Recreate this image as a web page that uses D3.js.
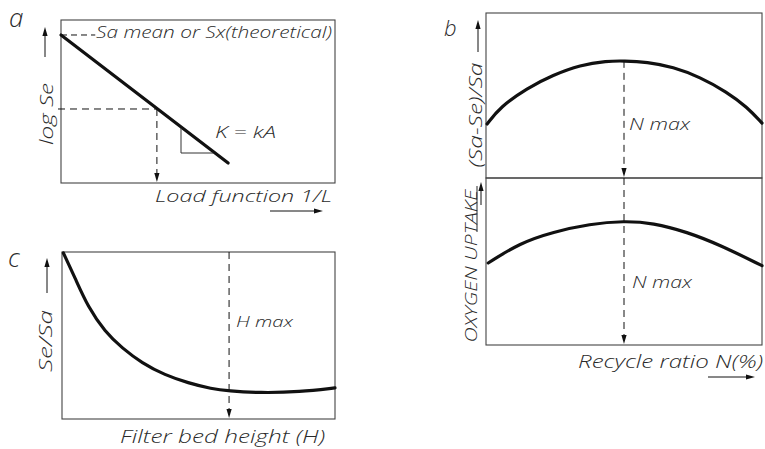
<!DOCTYPE html>
<html><head><meta charset="utf-8">
<script src="https://cdn.jsdelivr.net/npm/d3@7/dist/d3.min.js"></script>
<style>
html,body{margin:0;padding:0;background:#fff;}
text{font-family:"Open Sans","DejaVu Sans",sans-serif;font-style:italic;font-weight:300;fill:#2a2a2a;}
</style></head>
<body><svg id="c" width="765" height="449"></svg>
<script>
// ---- data (relative units 0..100 on each panel's axes) ----
// Panel a: log Se vs load function 1/L (straight line)
const aLineX = [0, 61];
const aLineY = [90.8, 12.3];
const aGuideX = 35;          // dashed read-off point
const aGuideY = 45.4;
const aSlopeX = [43.8, 43.8, 55.5];   // slope triangle
const aSlopeY = [33.7, 18.4, 18.4];
// Panel c: Se/Sa vs filter bed height
const cX = [0.5, 4.8, 9.5, 15.8, 22.0, 29.3, 37.7, 46.2, 54.9, 60.8, 72.5, 87.2, 100];
const cY = [99.4, 84.4, 67.1, 52.1, 42.5, 33.5, 26.3, 21.6, 18.0, 16.8, 15.6, 16.2, 18.6];
const cHmax = 61.2;
// Panel b: (Sa-Se)/Sa and oxygen uptake vs recycle ratio
const bX1 = [0.4, 5.1, 14.9, 24.3, 34.1, 43.8, 50, 58.3, 67.8, 77.5, 87.3, 94.6, 100];
const bRemoval = [32.7, 43.0, 54.5, 62.4, 68.5, 70.9, 71.0, 70.3, 67.3, 61.2, 52.1, 43.0, 33.3];
const bX2 = [0.8, 12.3, 24.3, 37.7, 50, 60.5, 72.8, 84.8, 100];
const bOxygen = [49.1, 61.1, 67.7, 72.5, 74.3, 73.1, 67.7, 59.9, 47.5];
const bNmax = 50;
// labels
const panelLetters = ["a", "b", "c"];
const aTexts = ["Sa mean or Sx(theoretical)", "K = kA", "Load function  1/L", "log Se"];
const cTexts = ["Filter bed height (H)", "H max", "Se/Sa"];
const bTexts = ["(Sa-Se)/Sa", "OXYGEN UPTAKE", "N max", "N max", "Recycle ratio N(%)"];

// ---- drawing ----
const svg = d3.select("#c");
const INK = "#111", BOX = "#444";

function txt(x, y, s, size, len, rot) {
  const t = svg.append("text").attr("font-size", size).text(s);
  if (len) t.attr("textLength", len).attr("lengthAdjust", "spacingAndGlyphs");
  if (rot) t.attr("transform", `translate(${x},${y}) rotate(-90)`).attr("text-anchor", "middle");
  else t.attr("x", x).attr("y", y);
  return t;
}
function arrowHead(x, y, dir, L = 9, W = 2.6) {
  let pts;
  if (dir === "down") pts = [[x, y], [x - W, y - L], [x + W, y - L]];
  if (dir === "up") pts = [[x, y], [x - W, y + L], [x + W, y + L]];
  if (dir === "right") pts = [[x, y], [x - L, y - W], [x - L, y + W]];
  svg.append("path").attr("d", d3.line()(pts) + "Z").attr("fill", INK);
}
function seg(x1, y1, x2, y2, dash, w = 1, col = INK) {
  svg.append("line").attr("x1", x1).attr("y1", y1).attr("x2", x2).attr("y2", y2)
    .attr("stroke", col).attr("stroke-width", w).attr("stroke-dasharray", dash || null);
}
function box(x, y) {
  svg.append("rect").attr("x", x.range()[0]).attr("y", y.range()[1])
    .attr("width", x.range()[1] - x.range()[0]).attr("height", y.range()[0] - y.range()[1])
    .attr("fill", "none").attr("stroke", BOX).attr("stroke-width", 1.1);
}
function curve(xs, ys, sx, sy) {
  svg.append("path").datum(d3.zip(xs, ys))
    .attr("d", d3.line().x(d => sx(d[0])).y(d => sy(d[1])).curve(d3.curveBasis))
    .attr("fill", "none").attr("stroke", INK).attr("stroke-width", 3.2).attr("stroke-linecap", "round");
}
const DASH = "7,5";

// Panel a
const ax = d3.scaleLinear().domain([0, 100]).range([61, 335]);
const ay = d3.scaleLinear().domain([0, 100]).range([183, 20]);
box(ax, ay);
svg.append("path").datum(d3.zip(aLineX, aLineY))
  .attr("d", d3.line().x(d => ax(d[0])).y(d => ay(d[1])))
  .attr("fill", "none").attr("stroke", INK).attr("stroke-width", 3.2).attr("stroke-linecap", "round");
seg(ax(0) - 3, ay(aGuideY), ax(aGuideX), ay(aGuideY), DASH);
seg(ax(aGuideX), ay(aGuideY), ax(aGuideX), ay(0) - 6, DASH);
arrowHead(ax(aGuideX), ay(0) - 1, "down");
seg(ax(0), ay(aLineY[0]), ax(12.5), ay(aLineY[0]), "6,4");
svg.append("path").datum(d3.zip(aSlopeX, aSlopeY))
  .attr("d", d3.line().x(d => ax(d[0])).y(d => ay(d[1])))
  .attr("fill", "none").attr("stroke", "#333").attr("stroke-width", 1);
txt(96, 38, aTexts[0], 16, 236);
txt(215, 138, aTexts[1], 16, 61);
txt(155, 202, aTexts[2], 17, 177);
txt(53, 114, aTexts[3], 19, 62, true);
seg(45, 57, 45, 33); arrowHead(45, 27, "up");
seg(270, 211, 316, 211); arrowHead(323, 211, "right");
txt(9, 27, panelLetters[0], 26);

// Panel c
const cx = d3.scaleLinear().domain([0, 100]).range([62, 335]);
const cy = d3.scaleLinear().domain([0, 100]).range([419, 252]);
box(cx, cy);
curve(cX, cY, cx, cy);
seg(cx(cHmax), cy(100), cx(cHmax), cy(0) - 6, DASH);
arrowHead(cx(cHmax), cy(0) - 1, "down");
txt(120, 443, cTexts[0], 18, 205);
txt(236, 327, cTexts[1], 15, 57);
txt(52, 341, cTexts[2], 18, 62, true);
seg(47, 293, 47, 264); arrowHead(47, 258, "up");
txt(8, 267, panelLetters[2], 26);

// Panel b
const bx = d3.scaleLinear().domain([0, 100]).range([486, 762]);
const byTop = d3.scaleLinear().domain([0, 100]).range([178, 13]);
const byBot = d3.scaleLinear().domain([0, 100]).range([345, 178]);
box(bx, byTop); box(bx, byBot);
curve(bX1, bRemoval, bx, byTop);
curve(bX2, bOxygen, bx, byBot);
seg(bx(bNmax), byTop(71), bx(bNmax), byTop(0) - 7, DASH);
arrowHead(bx(bNmax), byTop(0) - 1, "down");
seg(bx(bNmax), byBot(100), bx(bNmax), byBot(0) - 7, DASH);
arrowHead(bx(bNmax), byBot(0) - 1, "down");
txt(482, 115, bTexts[0], 18, 105, true);
txt(477, 266, bTexts[1], 17, 153, true);
seg(478, 52, 478, 27); arrowHead(478, 20, "up");
seg(477, 232, 477, 186, null, 0.9);
seg(481, 205, 481, 188); arrowHead(481, 182, "up");
txt(629, 130, bTexts[2], 16, 61);
txt(632, 288, bTexts[3], 16, 60);
txt(578, 368, bTexts[4], 18, 185);
seg(708, 377, 748, 377); arrowHead(755, 377, "right");
txt(444, 36, panelLetters[1], 22);
</script></body></html>
